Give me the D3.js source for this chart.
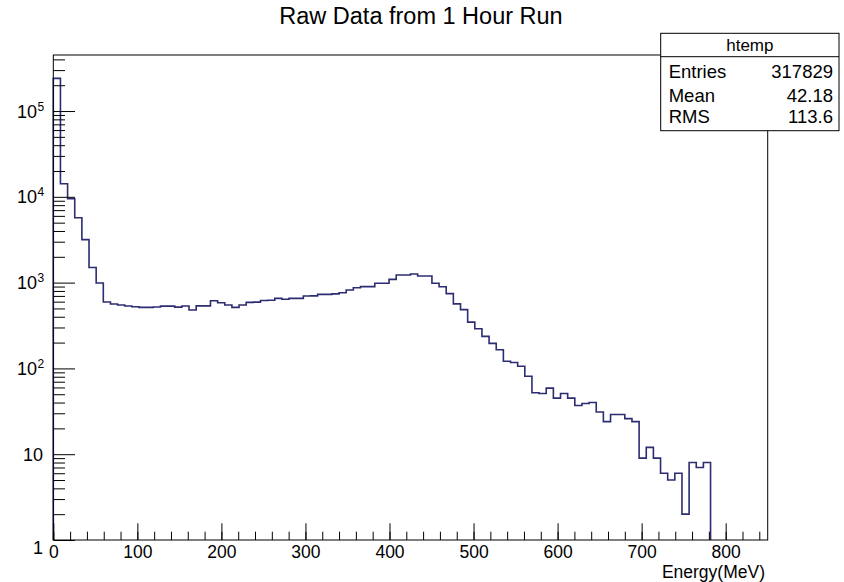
<!DOCTYPE html>
<html>
<head>
<meta charset="utf-8">
<script src="https://cdn.jsdelivr.net/npm/d3@7"></script>
<style>
  html, body { margin: 0; padding: 0; background: #fff; }
  svg { display: block; }
  text { font-family: "Liberation Sans", Arial, Helvetica, sans-serif; fill: #000; }
</style>
</head>
<body>
<svg id="chart" width="844" height="582"></svg>
<script>
// ---- data ----
const title = "Raw Data from 1 Hour Run";
const xLabel = "Energy(MeV)";
const binLow = 0;
const binWidth = 8.5;
const counts = [240000,14200,9500,5700,3170,1500,990,595,563,548,
  534,524,515,515,520,532,532,518,534,480,
  536,536,615,583,548,515,548,589,592,620,
  622,656,640,656,656,698,700,730,730,740,
  763,820,873,897,897,982,982,1092,1227,1227,
  1260,1194,1194,985,895,745,565,485,346,290,
  236,196,165,121,117,106,81,52,51,59,
  45,51,45,37,39,40,31,24,29,29,
  26,24,9,12,9,6,5,6,2,8,
  7,8];
const xDomain = [0, 850];
const yDomain = [1, 450000];
const xMajorTicks = [0,100,200,300,400,500,600,700,800];
const xMinorTicks = d3.range(0, 851, 20);
const yMajorTicks = [1,10,100,1000,10000,100000];
const yMajorExp = [null,null,2,3,4,5];
const yMinorTicks = [];
for (let d = 0; d < 6; d++) for (let m = 2; m <= 9; m++) { const v = m * Math.pow(10, d); if (v <= yDomain[1]) yMinorTicks.push(v); }
const statsTitle = "htemp";
const statsNames = ["Entries", "Mean", "RMS"];
const statsValues = ["317829", "42.18", "113.6"];

// ---- layout ----
const svg = d3.select("#chart");
const L = 53.3, R = 767.7, T = 55, B = 540;
const x = d3.scaleLinear().domain(xDomain).range([L, R]);
const y = d3.scaleLog().domain(yDomain).range([B, T]);
const histColor = "#2c2c72";

// title
svg.append("text").attr("x", 421).attr("y", 24).attr("text-anchor", "middle")
  .style("font-size", "23.5px").text(title);

// histogram path
const pts = [[x(binLow), y(yDomain[0])]];
counts.forEach((c, i) => {
  const lo = binLow + i * binWidth, hi = lo + binWidth;
  pts.push([x(lo), y(c)], [x(hi), y(c)]);
});
pts.push([x(binLow + counts.length * binWidth), y(yDomain[0])]);
svg.append("path").attr("d", d3.line()(pts)).attr("fill", "none")
  .attr("stroke", histColor).attr("stroke-width", 1.6);

// frame
svg.append("rect").attr("x", L).attr("y", T).attr("width", R - L).attr("height", B - T)
  .attr("fill", "none").attr("stroke", "#000").attr("stroke-width", 1);

// x axis
const gxMinor = svg.append("g").attr("transform", `translate(0,${B})`)
  .call(d3.axisBottom(x).tickValues(xMinorTicks).tickSize(-8.3).tickFormat(""));
const gx = svg.append("g").attr("transform", `translate(0,${B})`)
  .call(d3.axisBottom(x).tickValues(xMajorTicks).tickSize(-16.7).tickPadding(3).tickFormat(d3.format("d")));
[gxMinor, gx].forEach(g => { g.select(".domain").remove(); g.selectAll("line").attr("stroke", "#000"); });
gx.selectAll("text").style("font-size", "17.5px").attr("dy", "0.85em").attr("fill", "#000");

svg.append("text").attr("x", 765).attr("y", 577.8).attr("text-anchor", "end")
  .style("font-size", "17.5px").text(xLabel);

// y axis
const gyMinor = svg.append("g").attr("transform", `translate(${L},0)`)
  .call(d3.axisLeft(y).tickValues(yMinorTicks).tickSize(-11.7).tickFormat(""));
const gy = svg.append("g").attr("transform", `translate(${L},0)`)
  .call(d3.axisLeft(y).tickValues(yMajorTicks).tickSize(-21.7).tickFormat(""));
[gyMinor, gy].forEach(g => { g.select(".domain").remove(); g.selectAll("line").attr("stroke", "#000"); });
gy.selectAll("text").remove();
const labG = svg.append("g");
yMajorTicks.forEach((v, i) => {
  const e = yMajorExp[i];
  const yy = y(v) + (v === 1 ? 14 : 6.5);
  const t = labG.append("text").attr("x", e === null ? 43 : 37).attr("y", yy)
    .attr("text-anchor", "end").style("font-size", "18px");
  t.text(e === null ? String(v) : "10");
  if (e !== null) {
    labG.append("text").attr("x", 37.5).attr("y", yy - 7).style("font-size", "12px").text(e);
  }
});

// stats box
const sx = 660.7, sy = 33.3, sw = 178.3, sh = 97.4, hh = 23.4;
svg.append("rect").attr("x", sx).attr("y", sy).attr("width", sw).attr("height", sh)
  .attr("fill", "#fff").attr("stroke", "#000").attr("stroke-width", 1);
svg.append("line").attr("x1", sx).attr("x2", sx + sw).attr("y1", sy + hh).attr("y2", sy + hh)
  .attr("stroke", "#000");
svg.append("text").attr("x", sx + sw / 2).attr("y", sy + 17.5).attr("text-anchor", "middle")
  .style("font-size", "17px").text(statsTitle);
const rowY = [77.7, 101.7, 123.3];
statsNames.forEach((n, i) => {
  svg.append("text").attr("x", sx + 8).attr("y", rowY[i]).style("font-size", "18.5px").text(n);
  svg.append("text").attr("x", sx + sw - 6).attr("y", rowY[i]).attr("text-anchor", "end")
    .style("font-size", "18.5px").text(statsValues[i]);
});
</script>
</body>
</html>
